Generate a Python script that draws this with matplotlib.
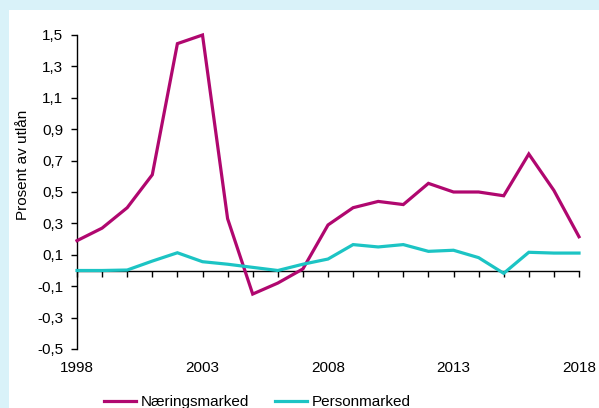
import matplotlib
matplotlib.use("Agg")
import matplotlib.pyplot as plt
from matplotlib.patches import Rectangle

years = list(range(1998, 2019))
naering = [0.19, 0.27, 0.40, 0.61, 1.445, 1.50, 0.33, -0.15, -0.08, 0.01, 0.29,
           0.40, 0.44, 0.42, 0.555, 0.50, 0.50, 0.476, 0.742, 0.51, 0.215]
person = [0.0, 0.0, 0.003, 0.06, 0.113, 0.056, 0.04, 0.02, 0.0, 0.04, 0.073,
          0.165, 0.15, 0.165, 0.122, 0.129, 0.082, -0.018, 0.116, 0.111, 0.111]
yticks = [-0.5, -0.3, -0.1, 0.1, 0.3, 0.5, 0.7, 0.9, 1.1, 1.3, 1.5]
xticklabels_years = [1998, 2003, 2008, 2013, 2018]

plt.rcParams['font.family'] = ['Liberation Sans', 'DejaVu Sans']

W, H = 599, 408
fig = plt.figure(figsize=(W / 100, H / 100), dpi=100)
fig.patch.set_facecolor('#d9f2f9')
bg = Rectangle((9 / W, 0), 1 - 9 / W, 1 - 10 / H, transform=fig.transFigure,
               facecolor='white', edgecolor='none', zorder=-10)
fig.patches.append(bg)

ax = fig.add_axes([77 / W, 1 - 349 / H, (579 - 77) / W, (349 - 35) / H])
ax.set_facecolor('none')
ax.plot(years, naering, color='#b0076f', lw=2.3, label='Næringsmarked',
        solid_joinstyle='miter', clip_on=False, zorder=3)
ax.plot(years, person, color='#1cc4c4', lw=2.3, label='Personmarked',
        solid_joinstyle='miter', clip_on=False, zorder=3)

ax.set_xlim(1998, 2018)
ax.set_ylim(-0.5, 1.5)
ax.set_yticks(yticks)
ax.set_yticklabels([f"{v:.1f}".replace('.', ',') for v in yticks])
ax.tick_params(axis='y', direction='out', length=4, width=1, pad=6, labelsize=11)

for s in ['top', 'right']:
    ax.spines[s].set_visible(False)
ax.spines['left'].set_linewidth(1)
ax.spines['bottom'].set_position(('data', 0))
ax.spines['bottom'].set_linewidth(1)
ax.set_xticks(years)
ax.tick_params(axis='x', direction='out', length=4, width=1, labelbottom=False)

sec = ax.secondary_xaxis(0)
sec.set_xticks(xticklabels_years)
sec.set_xticklabels([str(y) for y in xticklabels_years])
sec.tick_params(length=0, pad=9, labelsize=11)
sec.spines['bottom'].set_visible(False)

ax.set_ylabel('Prosent av utlån', fontsize=11)
ax.yaxis.set_label_coords(-0.094, 0.586)

fig.legend(loc='center', bbox_to_anchor=(257 / W, 6 / H), ncol=2, frameon=False,
           fontsize=11, handlelength=2.1, handletextpad=0.3, columnspacing=1.7,
           borderpad=0)

fig.savefig('out.png', dpi=100, facecolor=fig.get_facecolor())
